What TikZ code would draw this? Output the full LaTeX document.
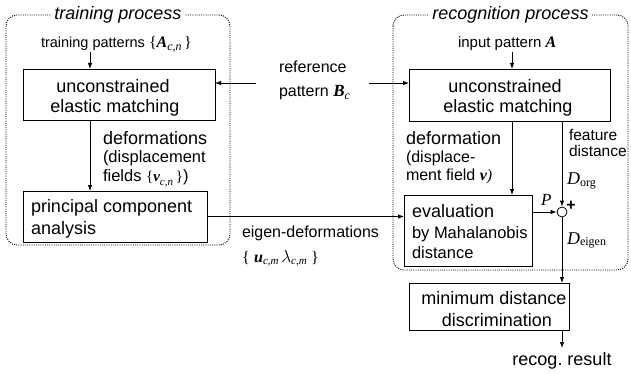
\documentclass[tikz,border=0pt]{standalone}
\usepackage{fontspec}
\setmainfont{Liberation Sans}
\newfontfamily\tms{Liberation Serif}
\usetikzlibrary{arrows.meta}
\frenchspacing
\newcommand{\fs}[1]{\fontsize{#1}{#1}\selectfont}
\newcommand{\mbi}[2]{{\tms\bfseries\itshape\fs{#2}#1}}
\newcommand{\mrm}[2]{{\tms\fs{#2}#1}}
\newcommand{\msub}[2]{\raisebox{-0.35ex}{\tms\fs{#2}#1}}
\begin{document}
\begin{tikzpicture}[x=1pt,y=-1pt,
  box/.style={draw, line width=0.95pt, inner sep=0, outer sep=0},
  conn/.style={line width=0.8pt, -{Latex[length=6pt,width=4.5pt]}},
  region/.style={draw, line width=0.9pt, dash pattern=on 1pt off 1.2pt, rounded corners=11pt},
  txt/.style={inner sep=0, outer sep=0},
  ttl/.style={txt, fill=white, inner xsep=3pt, inner ysep=2pt, font=\fs{18}\itshape},
  big/.style={txt, font=\fs{18}},
  mid/.style={txt, font=\fs{16}},
  sml/.style={txt, font=\fs{14.5}}]
\useasboundingbox (0,0) rectangle (631,374);
% regions
\draw[region] (6,15) rectangle (230,245);
\draw[region] (393,15) rectangle (628,270);
\node[ttl, anchor=base] (ttrain) at (118,20) {training process};
\node[ttl, anchor=base] (trecog) at (510.5,20) {recognition process};
% boxes
\node[box, minimum width=192pt, minimum height=51pt] (m1) at (119,94.5) {};
\node[box, minimum width=184pt, minimum height=51pt] (pca) at (115,216.5) {};
\node[box, minimum width=201pt, minimum height=52pt] (m2) at (509.5,95) {};
\node[box, minimum width=128pt, minimum height=71pt] (ev) at (468,230.5) {};
\node[box, minimum width=160pt, minimum height=47pt] (md) at (489,306.5) {};
\node[draw, circle, line width=0.8pt, minimum size=10pt, inner sep=0] (sum) at (562,212) {};
% box texts
\node[big, anchor=base] (m1a) at (113,93) {unconstrained};
\node[big, anchor=base] (m1b) at (115,113) {elastic matching};
\node[big, anchor=base] (m2a) at (505,93) {unconstrained};
\node[big, anchor=base] (m2b) at (508,113) {elastic matching};
\node[big, anchor=base west] (pcaa) at (31,212) {principal component};
\node[big, anchor=base west] (pcab) at (31,234) {analysis};
\node[big, anchor=base west] (eva) at (412,217) {evaluation};
\node[txt, font=\fs{16.5}, anchor=base west] (evb) at (412,238) {by Mahalanobis};
\node[txt, font=\fs{16.5}, anchor=base west] (evc) at (412,258) {distance};
\node[big, anchor=base] (mda) at (494,304) {minimum distance};
\node[big, anchor=base] (mdb) at (497,326) {discrimination};
% labels
\node[sml, anchor=base west] (tp) at (41,48) {training patterns \mrm{\{}{16}\mbi{A}{16}\msub{\itshape c,n}{12}\,\mrm{\}}{16}};
\node[mid, anchor=base west] (refa) at (279,73) {reference};
\node[mid, anchor=base west] (refb) at (279,97) {pattern \mbi{B}{17}\msub{\itshape c}{12}};
\node[txt, font=\fs{15}, anchor=base west] (ip) at (458,48) {input pattern \mbi{A}{16}};
\node[big, anchor=base west] (dfa) at (103,145) {deformations};
\node[txt, font=\fs{16.5}, anchor=base west] (dfb) at (103,163) {(displacement};
\node[txt, font=\fs{16.5}, anchor=base west] (dfc) at (103,182) {fields \mrm{\{}{15}\mbi{v}{15}\msub{\itshape c,n}{11}\,\mrm{\}}{15})};
\node[mid, anchor=base west] (eda) at (242,237) {eigen-deformations};
\node[mid, anchor=base west] (edb) at (242,262) {\mrm{\{}{16}\;\mbi{u}{16}\msub{\itshape c,m}{11}\,\mrm{$\lambda$}{16}\msub{\itshape c,m}{11}\;\mrm{\}}{16}};
\node[big, anchor=base west] (rda) at (406,145) {deformation};
\node[mid, anchor=base west] (rdb) at (406,163) {(displace-};
\node[mid, anchor=base west] (rdc) at (406,180) {ment field \mbi{v}{16}\mrm{\itshape)}{16}};
\node[txt, font=\fs{15.5}, anchor=base west] (fda) at (569,141) {feature};
\node[txt, font=\fs{15.5}, anchor=base west] (fdb) at (569,157) {distance};
\node[txt, anchor=base west] (dorg) at (567,185) {\mrm{\itshape D}{18}\msub{org}{12}};
\node[txt, anchor=base west] (pp) at (541,205) {\mrm{\itshape P}{17}};
\node[txt, font=\fs{16}\bfseries] (plus) at (571,206) {+};
\node[txt, anchor=base west] (deig) at (567,244) {\mrm{\itshape D}{18}\msub{eigen}{12}};
\node[big, anchor=base] (res) at (562,365) {recog. result};
% connector end points
\coordinate (tpa) at (90,52);
\coordinate (refL) at (256,83);
\coordinate (refR) at (369,83);
\coordinate (ipa) at (512,52);
\coordinate (resa) at (562,348);
% connectors
\draw[conn] (tpa) -- (tpa |- m1.north);
\draw[conn] (m1.south -| tpa) -- (pca.north -| tpa);
\draw[conn] (refL) -- (refL -| m1.east);
\draw[conn] (refR) -- (refR -| m2.west);
\draw[conn] (pca.east) -- (pca.east -| ev.west);
\draw[conn] (ipa) -- (ipa |- m2.north);
\draw[conn] (m2.south -| ipa) -- (ev.north -| ipa);
\draw[conn] (m2.south -| sum) -- (sum.north);
\draw[conn] (ev.east |- sum) -- (sum.west);
\draw[conn] (sum.south) -- (sum.south |- md.north);
\draw[conn] (md.south -| resa) -- (resa);
\end{tikzpicture}
\end{document}
